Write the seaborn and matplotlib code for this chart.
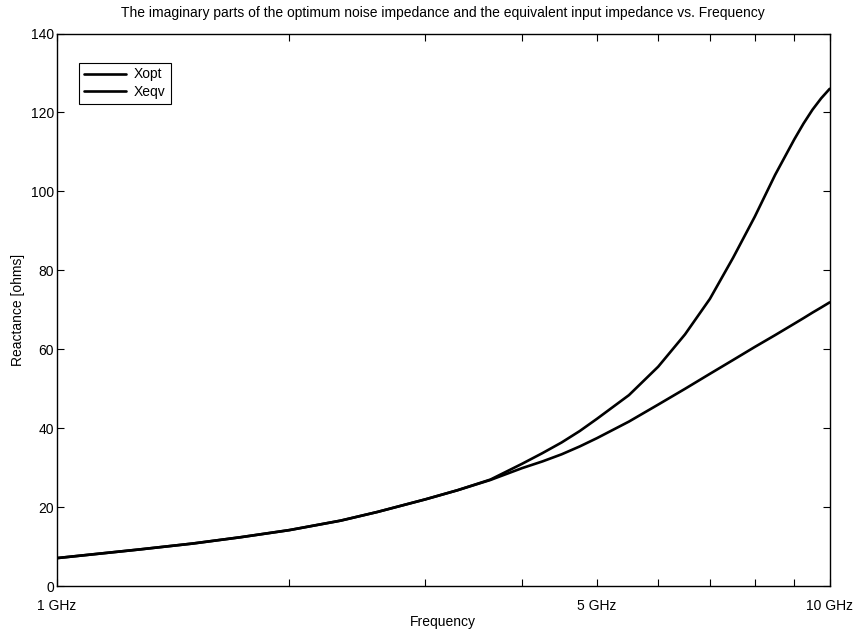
import matplotlib
matplotlib.use("Agg")
import matplotlib.pyplot as plt
import seaborn as sns
import pandas as pd

# frequency points in GHz (log-spaced axis)
freq_ghz = [1.0, 1.28, 1.5, 1.73, 2.0, 2.33, 2.6, 3.0, 3.3, 3.64, 4.0, 4.25, 4.5,
            4.75, 5.0, 5.5, 6.0, 6.5, 7.0, 7.5, 8.0, 8.5, 9.0, 9.25, 9.5, 9.75, 10.0]
x_opt = [7.1, 9.3, 10.8, 12.4, 14.2, 16.6, 18.8, 22.0, 24.3, 27.0, 31.0, 33.7, 36.4,
         39.3, 42.4, 48.4, 55.6, 63.8, 72.8, 83.2, 93.6, 104.2, 113.2, 117.2, 120.7, 123.6, 126.0]
x_eqv = [7.1, 9.3, 10.8, 12.4, 14.2, 16.6, 18.8, 22.0, 24.3, 26.9, 29.9, 31.6, 33.4,
         35.4, 37.5, 41.7, 46.0, 50.0, 53.8, 57.3, 60.6, 63.6, 66.5, 67.9, 69.3, 70.6, 71.9]

tick_freqs = [1, 2, 3, 4, 5, 6, 7, 8, 9, 10]
tick_labels = ['1 GHz', '', '', '', '5 GHz', '', '', '', '', '10 GHz']

df = pd.DataFrame({
    'freq': freq_ghz * 2,
    'value': x_opt + x_eqv,
    'series': ['Xopt'] * len(freq_ghz) + ['Xeqv'] * len(freq_ghz),
})

sns.set_style("ticks")
plt.rcParams['font.family'] = ['Liberation Sans', 'DejaVu Sans']
plt.rcParams['xtick.direction'] = 'in'
plt.rcParams['ytick.direction'] = 'in'
plt.rcParams['text.color'] = 'black'
plt.rcParams['axes.labelcolor'] = 'black'
plt.rcParams['xtick.labelcolor'] = 'black'
plt.rcParams['ytick.labelcolor'] = 'black'

fig = plt.figure(figsize=(8.58, 6.33), dpi=100)
ax = fig.add_axes([0.066, 0.074, 0.901, 0.873])

sns.lineplot(data=df, x='freq', y='value', hue='series',
             palette=['black', 'black'], linewidth=1.9, ax=ax)

ax.set_xscale('log')
ax.set_xlim(1, 10)
ax.set_ylim(0, 140)
ax.set_xticks(tick_freqs)
ax.set_xticklabels(tick_labels, fontsize=10)
ax.minorticks_off()
ax.set_yticks(range(0, 141, 20))
ax.tick_params(axis='y', labelsize=10, pad=2)
ax.tick_params(axis='x', pad=9)
ax.tick_params(top=True, right=True, length=5, width=0.8, color='black')
for s in ax.spines.values():
    s.set_color('black')
    s.set_linewidth(1.0)

ax.set_xlabel('Frequency', fontsize=10, labelpad=2)
ax.set_ylabel('Reactance [ohms]', fontsize=10)
ax.set_title('The imaginary parts of the optimum noise impedance and the equivalent input impedance vs. Frequency',
             fontsize=10, pad=12)

leg = ax.legend(loc='upper left', bbox_to_anchor=(0.02, 0.96), fontsize=10,
                handlelength=3.0, handletextpad=0.6, fancybox=False, edgecolor='black',
                framealpha=1, borderpad=0.35, labelspacing=0.25)
leg.get_frame().set_linewidth(0.8)

fig.savefig('out.png', dpi=100)
